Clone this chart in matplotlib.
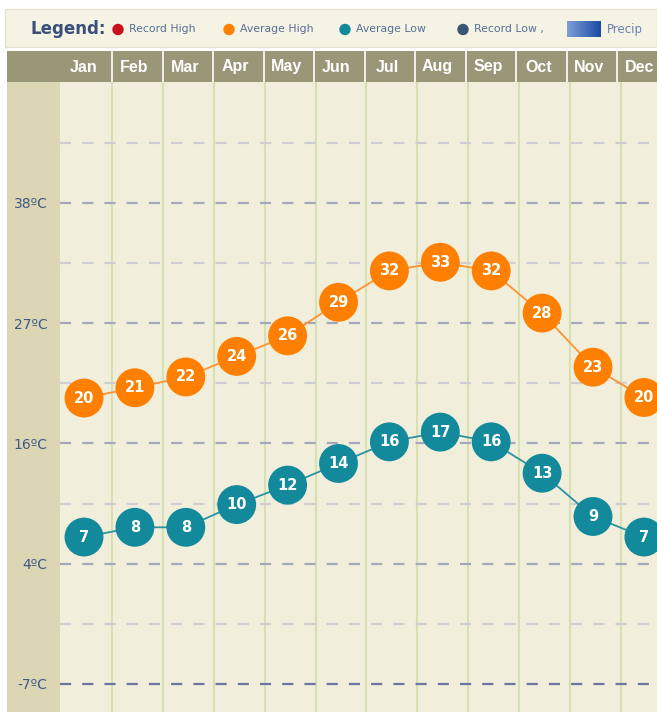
import numpy as np
import matplotlib
matplotlib.use("Agg")
import matplotlib.pyplot as plt
from matplotlib.patches import Rectangle, Circle

months = ["Jan", "Feb", "Mar", "Apr", "May", "Jun", "Jul", "Aug", "Sep", "Oct", "Nov", "Dec"]
# labels shown in the circles
high_labels = [20, 21, 22, 24, 26, 29, 32, 33, 32, 28, 23, 20]
low_labels = [7, 8, 8, 10, 12, 14, 16, 17, 16, 13, 9, 7]
# where the circles actually sit (deg C)
avg_high = [19.75, 20.7, 21.7, 23.6, 25.5, 28.6, 31.5, 32.3, 31.5, 27.6, 22.6, 19.8]
avg_low = [6.9, 7.8, 7.8, 9.9, 11.7, 13.7, 15.7, 16.6, 15.7, 12.8, 8.8, 6.9]
tick_f = [100, 80, 60, 40, 20]
tick_labels = ["38ºC", "27ºC", "16ºC", "4ºC", "-7ºC"]
minor_f = [110, 90, 70, 50, 30]
legend_items = [("Record High", "#c8101a"), ("Average High", "#ff8000"),
                ("Average Low", "#138a9c"), ("Record Low ,", "#3b5575")]

def c_to_f(c):
    return np.array(c) * 9 / 5 + 32

W, H = 657, 712
fig = plt.figure(figsize=(W / 100, H / 100), dpi=100)
fig.patch.set_facecolor("white")

# background / frame axes in pixel units
bg = fig.add_axes([0, 0, 1, 1], zorder=0)
bg.set_xlim(0, W)
bg.set_ylim(H, 0)
bg.axis("off")

# legend strip
bg.add_patch(Rectangle((5, 9), W - 5, 38, facecolor="#f4f3e4", edgecolor="#e4e2cc", lw=1))
bg.text(30, 29, "Legend:", fontsize=12, fontweight="bold", color="#3a4f7a", va="center", ha="left")
leg_x = [118, 229, 345, 463]
for (name, col), lx in zip(legend_items, leg_x):
    bg.add_patch(Circle((lx, 29.5), 5, color=col))
    bg.text(lx + 11, 29, name, fontsize=7.8, color="#5a6e96", va="center", ha="left")
grad = np.linspace(0, 1, 50).reshape(1, -1)
bg.imshow(grad, extent=[567, 601, 37, 21], cmap=matplotlib.colors.LinearSegmentedColormap.from_list("p", ["#7d9ed8", "#1b4ba3"]),
          aspect="auto", zorder=3)
bg.text(607, 29, "Precip", fontsize=8.5, color="#6a80b0", va="center", ha="left")

# header bar
bg.add_patch(Rectangle((7, 51), W - 7, 31, facecolor="#9a9779", edgecolor="none"))
sep_x = [112 + 50.5 * k for k in range(11)]
for sx in sep_x:
    bg.plot([sx, sx], [51, 82], color="white", lw=1.2)
for i, m in enumerate(months):
    bg.text(84 + 50.5 * i, 67, m, fontsize=11.5, fontweight="bold", color="white",
            ha="center", va="center", family="Liberation Sans")

# left strip
bg.add_patch(Rectangle((7, 82), 53, H - 82, facecolor="#dcd6b5", edgecolor="none"))

# main chart axes
ax = fig.add_axes([60 / W, 0, (W - 60) / W, (H - 82) / H], zorder=1)
ax.set_facecolor("#f1efdc")
x = np.arange(len(months))
px_per_month = 50.9
ax.set_xlim((60 - 84) / px_per_month, (W - 84) / px_per_month)
ax.set_ylim(100 - (712 - 203) / 6.01, 100 + (203 - 82) / 6.01)

for k in range(11):
    ax.axvline(k + 0.55, color="#d6e0b0", lw=1.5, zorder=1)

for f in minor_f:
    ax.axhline(f, color="#cdcdd2", lw=1.6, dashes=(5, 5), zorder=2)
for f in tick_f:
    col = "#6b74a3" if f == 20 else "#a3a8bb"
    ax.axhline(f, color=col, lw=1.6, dashes=(5, 5), zorder=2)

hi_f = c_to_f(avg_high)
lo_f = c_to_f(avg_low)
ax.plot(x, hi_f, color="#ff9331", lw=1.3, zorder=3)
ax.plot(x, lo_f, color="#2a93a3", lw=1.3, zorder=3)
ax.scatter(x, hi_f, s=28 ** 2, color="#ff8000", zorder=4, edgecolors="none")
ax.scatter(x, lo_f, s=28 ** 2, color="#138a9c", zorder=4, edgecolors="none")
for xi, v, fv in zip(x, high_labels, hi_f):
    ax.text(xi, fv, str(v), color="white", fontsize=10.5, fontweight="bold", ha="center", va="center", zorder=5)
for xi, v, fv in zip(x, low_labels, lo_f):
    ax.text(xi, fv, str(v), color="white", fontsize=10.5, fontweight="bold", ha="center", va="center", zorder=5)

ax.set_yticks(tick_f)
ax.set_yticklabels(tick_labels, fontsize=10, color="#3d5a85")
ax.tick_params(axis="y", length=0, pad=9)
ax.set_xticks([])
for s in ax.spines.values():
    s.set_visible(False)

fig.savefig("out.png", dpi=100)
